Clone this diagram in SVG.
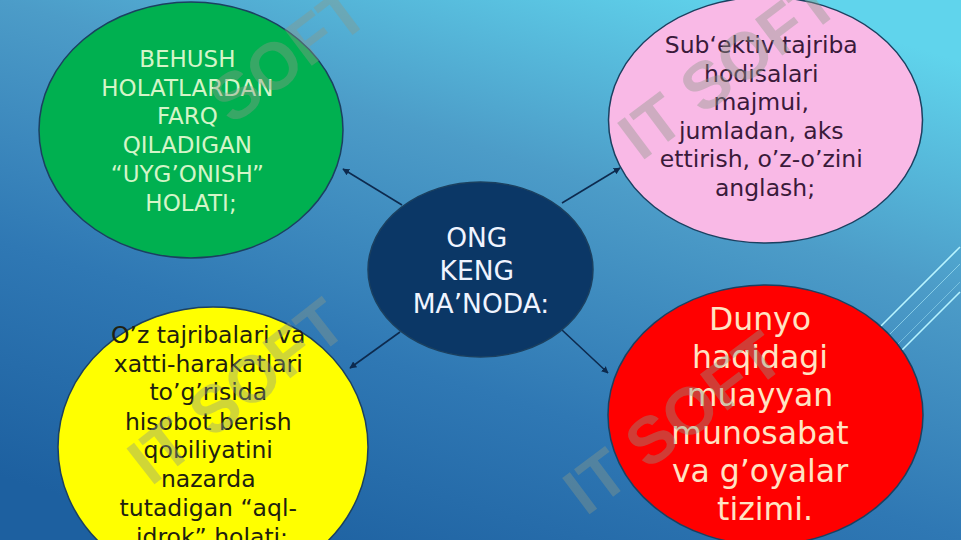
<svg xmlns="http://www.w3.org/2000/svg" width="961" height="540" viewBox="0 0 961 540">
  <defs>
    <linearGradient id="bg" gradientUnits="userSpaceOnUse" x1="600" y1="-50" x2="400" y2="600">
      <stop offset="0" stop-color="#60d4ec"/>
      <stop offset="0.33" stop-color="#4c9cc8"/>
      <stop offset="0.67" stop-color="#2f78b4"/>
      <stop offset="1" stop-color="#1d60a0"/>
    </linearGradient>
    <marker id="arr" viewBox="0 0 10 10" refX="9" refY="5" markerWidth="7" markerHeight="7" orient="auto" markerUnits="userSpaceOnUse">
      <path d="M0,0 L10,5 L0,10 z" fill="#0d2a4e"/>
    </marker>
  </defs>
  <style>
    .t { font-family: "DejaVu Sans", Verdana, sans-serif; text-anchor: middle; }
    .node { stroke: #1b4060; stroke-width: 1.5; }
    .edge { stroke: #0d2a4e; stroke-width: 1.6; fill: none; marker-end: url(#arr); }
    .deco { stroke: #b8f4ff; fill: none; }
    .wm { font-family: "Liberation Sans", Arial, sans-serif; font-weight: bold; font-size: 66px; fill: #8c9a88; opacity: 0.4; }
  </style>

  <rect width="961" height="540" fill="url(#bg)"/>

  <g id="decor">
    <line class="deco" x1="860" y1="347" x2="960" y2="247" stroke-width="1.6"/>
    <line class="deco" x1="870" y1="354" x2="960" y2="264" stroke-width="1" opacity="0.55"/>
    <line class="deco" x1="880" y1="362" x2="960" y2="282" stroke-width="1" opacity="0.4"/>
    <line class="deco" x1="885" y1="367" x2="960" y2="292" stroke-width="1.6"/>
  </g>

  <g id="connectors">
    <line class="edge" x1="402" y1="205" x2="343" y2="169"/>
    <line class="edge" x1="562" y1="203" x2="620" y2="168"/>
    <line class="edge" x1="400" y1="332" x2="350" y2="368"/>
    <line class="edge" x1="562" y1="330" x2="608" y2="373"/>
  </g>

  <g id="node-green">
    <ellipse class="node" cx="191" cy="130" rx="152" ry="128" fill="#00b050"/>
    <text class="t" font-size="23" fill="#d4f5c8">
      <tspan x="191" y="67">BEHUSH</tspan>
      <tspan x="191" y="96">HOLATLARDAN</tspan>
      <tspan x="191" y="124">FARQ</tspan>
      <tspan x="191" y="153">QILADIGAN</tspan>
      <tspan x="191" y="182">“UYG’ONISH”</tspan>
      <tspan x="191" y="211">HOLATI;</tspan>
    </text>
  </g>

  <g id="node-pink">
    <ellipse class="node" cx="765.5" cy="120" rx="157" ry="123" fill="#f9b9e6"/>
    <text class="t" font-size="23.5" fill="#3a1a3a">
      <tspan x="765" y="53">Sub‘ektiv tajriba</tspan>
      <tspan x="765" y="82">hodisalari</tspan>
      <tspan x="765" y="110">majmui,</tspan>
      <tspan x="765" y="139">jumladan, aks</tspan>
      <tspan x="765" y="167">ettirish, o’z-o’zini</tspan>
      <tspan x="765" y="196">anglash;</tspan>
    </text>
  </g>

  <g id="node-center">
    <ellipse class="node" cx="480.5" cy="269.5" rx="112.5" ry="87.5" fill="#0b3766"/>
    <text class="t" font-size="26.5" fill="#f0f4ff">
      <tspan x="481" y="247">ONG</tspan>
      <tspan x="481" y="280">KENG</tspan>
      <tspan x="481" y="313">MA’NODA:</tspan>
    </text>
  </g>

  <g id="node-yellow">
    <ellipse class="node" cx="213" cy="447" rx="155" ry="140" fill="#ffff00"/>
    <text class="t" font-size="23.5" fill="#202010">
      <tspan x="212" y="343">O’z tajribalari va</tspan>
      <tspan x="212" y="372">xatti-harakatlari</tspan>
      <tspan x="212" y="400">to’g’risida</tspan>
      <tspan x="212" y="430">hisobot berish</tspan>
      <tspan x="212" y="458">qobiliyatini</tspan>
      <tspan x="212" y="487">nazarda</tspan>
      <tspan x="212" y="516">tutadigan “aql-</tspan>
      <tspan x="212" y="545">idrok” holati;</tspan>
    </text>
  </g>

  <g id="node-red">
    <ellipse class="node" cx="765.5" cy="415" rx="157.5" ry="130" fill="#ff0000"/>
    <text class="t" font-size="31.5" fill="#ffe4c4">
      <tspan x="765" y="330">Dunyo</tspan>
      <tspan x="765" y="368">haqidagi</tspan>
      <tspan x="765" y="406">muayyan</tspan>
      <tspan x="765" y="444">munosabat</tspan>
      <tspan x="765" y="482">va g’oyalar</tspan>
      <tspan x="765" y="520">tizimi.</tspan>
    </text>
  </g>

  <g id="watermark">
    <text class="wm" transform="translate(232,126) rotate(-37)">SOFT</text>
    <text class="wm" transform="translate(641,162) rotate(-37)">IT SOFT</text>
    <text class="wm" transform="translate(151,487) rotate(-38)">IT SOFT</text>
    <text class="wm" transform="translate(586,517) rotate(-37)">IT SOFT</text>
  </g>
</svg>
